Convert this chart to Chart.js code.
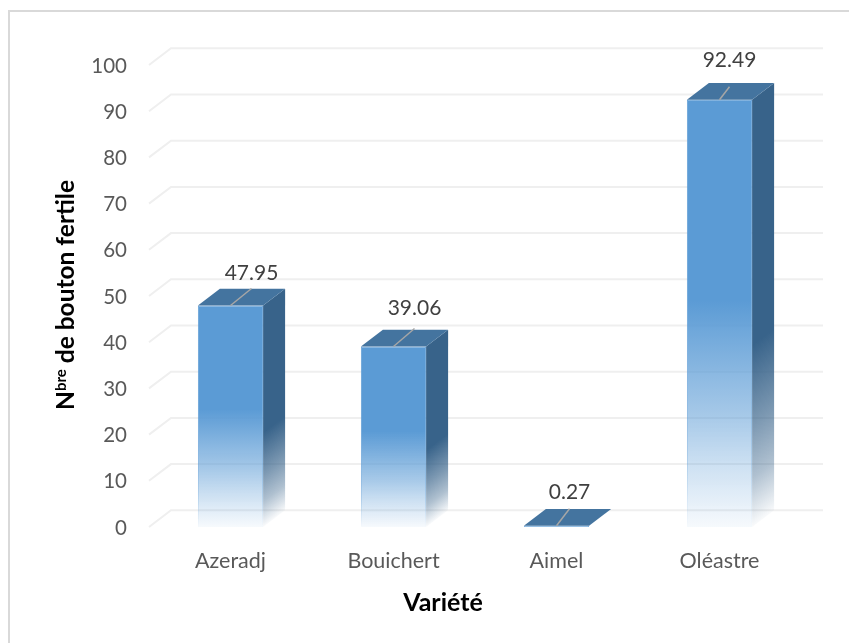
<!DOCTYPE html>
<html>
<head>
<meta charset="utf-8">
<title>Nbre de bouton fertile</title>
<script src="https://cdn.jsdelivr.net/npm/chart.js@4"></script>
<style>
  html, body { margin: 0; padding: 0; background: #fff; }
  canvas { display: block; }
</style>
</head>
<body>
<canvas id="myChart" width="849" height="643"></canvas>
<script>
// --- data ---
const varietes = ['Azeradj', 'Bouichert', 'Aimel', 'Oléastre'];
const boutons  = [47.95, 39.06, 0.27, 92.49];
const yTicks   = [0, 10, 20, 30, 40, 50, 60, 70, 80, 90, 100];

// decalage manuel des etiquettes, par rapport au milieu du haut de la barre
const labelDx  = [21, 21, 13, 10];
const labelDy  = [-34, -40, -35, -41];
const leaderGap = [17, 22, 18, 28];

// --- style ---
const FONT = 'Lato, Carlito, "Open Sans", sans-serif';
const DEPTH_X = 22, DEPTH_Y = 16.7;
const FRONT = '91,155,213', SIDE = '56,99,138', TOP = '#44749f';
const FILL_STOPS   = [[0, 1], [0.47, 1], [0.745, 0.53], [0.857, 0.3], [1, 0.05]];
const BORDER_STOPS = [[0, 0.9], [0.47, 0.9], [0.745, 0.7], [0.857, 0.5], [1, 0.06]];
const SIDE_STOPS   = [[0, 1], [0.15, 1], [0.53, 0.65], [0.77, 0.4], [1, 0.03]];

function barGradient(context, stops) {
  const { chart, dataIndex } = context;
  const y = chart.scales.y;
  if (!y || y.top === undefined) return `rgb(${FRONT})`;
  const g = chart.ctx.createLinearGradient(0, y.getPixelForValue(boutons[dataIndex]), 0, y.getPixelForValue(0));
  stops.forEach(s => g.addColorStop(s[0], `rgba(${FRONT},${s[1]})`));
  return g;
}

// grille "3D" : mur du fond + retour oblique vers l'axe
const grid3d = {
  id: 'grid3d',
  beforeDatasetsDraw(chart) {
    const { ctx, scales: { x, y } } = chart;
    ctx.save();
    ctx.strokeStyle = '#efefef';
    ctx.lineWidth = 2;
    yTicks.forEach(t => {
      const py = y.getPixelForValue(t);
      ctx.beginPath();
      ctx.moveTo(x.left, py);
      ctx.lineTo(x.left + DEPTH_X, py - DEPTH_Y);
      ctx.lineTo(x.right + DEPTH_X, py - DEPTH_Y);
      ctx.stroke();
    });
    ctx.restore();
  }
};

// faces laterale et superieure des barres
const bar3d = {
  id: 'bar3d',
  afterDatasetsDraw(chart) {
    const { ctx, scales: { y } } = chart;
    const base = y.getPixelForValue(0);
    ctx.save();
    chart.getDatasetMeta(0).data.forEach(bar => {
      const half = bar.width / 2;
      const l = bar.x - half, r = bar.x + half, top = bar.y;
      const h = base - top;

      if (h > 3) {
        // iso-lignes paralleles a l'arete basse oblique
        const mid = top + h / 2;
        const k = (h / 2) * DEPTH_X / (DEPTH_X * DEPTH_X + DEPTH_Y * DEPTH_Y);
        const g = ctx.createLinearGradient(r, mid, r + DEPTH_Y * k, mid + DEPTH_X * k);
        SIDE_STOPS.forEach(s => g.addColorStop(s[0], `rgba(${SIDE},${s[1]})`));
        ctx.fillStyle = g;
        ctx.beginPath();
        ctx.moveTo(r, top);
        ctx.lineTo(r + DEPTH_X, top - DEPTH_Y);
        ctx.lineTo(r + DEPTH_X, base - DEPTH_Y);
        ctx.lineTo(r, base);
        ctx.closePath();
        ctx.fill();
      }

      ctx.fillStyle = TOP;
      ctx.beginPath();
      ctx.moveTo(l, top);
      ctx.lineTo(r, top);
      ctx.lineTo(r + DEPTH_X, top - DEPTH_Y);
      ctx.lineTo(l + DEPTH_X, top - DEPTH_Y);
      ctx.closePath();
      ctx.fill();
    });
    ctx.restore();
  }
};

// etiquettes de valeur avec leur trait de rappel
const valueLabels = {
  id: 'valueLabels',
  afterDatasetsDraw(chart) {
    const { ctx } = chart;
    ctx.save();
    chart.getDatasetMeta(0).data.forEach((bar, i) => {
      const lx = bar.x + labelDx[i], ly = bar.y + labelDy[i];
      ctx.strokeStyle = '#a6a6a6';
      ctx.lineWidth = 1.5;
      ctx.beginPath();
      ctx.moveTo(bar.x, bar.y);
      ctx.lineTo(lx, ly + leaderGap[i]);
      ctx.stroke();

      ctx.fillStyle = '#404040';
      ctx.font = `21px ${FONT}`;
      ctx.textAlign = 'center';
      ctx.textBaseline = 'middle';
      ctx.fillText(String(boutons[i]), lx, ly + 1.5);
    });
    ctx.restore();
  }
};

// cadre + titres (Chart.js ne sait pas faire l'exposant "bre")
const frameAndTitles = {
  id: 'frameAndTitles',
  afterDraw(chart) {
    const { ctx } = chart;
    ctx.save();
    ctx.strokeStyle = '#d9d9d9';
    ctx.lineWidth = 2;
    ctx.beginPath();
    ctx.moveTo(9, 643);
    ctx.lineTo(9, 11);
    ctx.lineTo(849, 11);
    ctx.stroke();

    ctx.fillStyle = '#000';
    ctx.textAlign = 'center';
    ctx.textBaseline = 'middle';
    ctx.font = `bold 25px ${FONT}`;
    ctx.fillText('Variété', 443, 603);

    ctx.translate(66, 295);
    ctx.rotate(-Math.PI / 2);
    ctx.textBaseline = 'alphabetic';
    ctx.textAlign = 'left';
    const big = `bold 24.5px ${FONT}`, small = `bold 15px ${FONT}`;
    const parts = [['N', big, 0], ['bre', small, -8], [' de bouton fertile', big, 0]];
    let total = 0;
    parts.forEach(p => { ctx.font = p[1]; total += ctx.measureText(p[0]).width; });
    let cx = -total / 2;
    parts.forEach(p => {
      ctx.font = p[1];
      ctx.fillText(p[0], cx, 8 + p[2]);
      cx += ctx.measureText(p[0]).width;
    });
    ctx.restore();
  }
};

new Chart(document.getElementById('myChart'), {
  type: 'bar',
  data: {
    labels: varietes,
    datasets: [{
      data: boutons,
      backgroundColor: c => barGradient(c, FILL_STOPS),
      borderColor: c => barGradient(c, BORDER_STOPS),
      borderWidth: 1,
      categoryPercentage: 1,
      barPercentage: 0.4
    }]
  },
  plugins: [grid3d, bar3d, valueLabels, frameAndTitles],
  options: {
    responsive: false,
    animation: false,
    layout: { padding: { left: 8, right: 48, top: 65, bottom: 0 } },
    plugins: { legend: { display: false }, tooltip: { enabled: false } },
    scales: {
      x: {
        afterFit: s => { s.height = 116; },
        grid: { display: false },
        border: { display: false },
        ticks: { color: '#595959', padding: 13, maxRotation: 0, font: { family: FONT, size: 21.5 } }
      },
      y: {
        min: 0,
        max: 100,
        afterFit: s => { s.width = 141; },
        afterBuildTicks: s => { s.ticks = yTicks.map(v => ({ value: v })); },
        grid: { display: false },
        border: { display: false },
        ticks: { color: '#595959', padding: 14, labelOffset: 1, font: { family: FONT, size: 20.5 } }
      }
    }
  }
});
</script>
</body>
</html>
